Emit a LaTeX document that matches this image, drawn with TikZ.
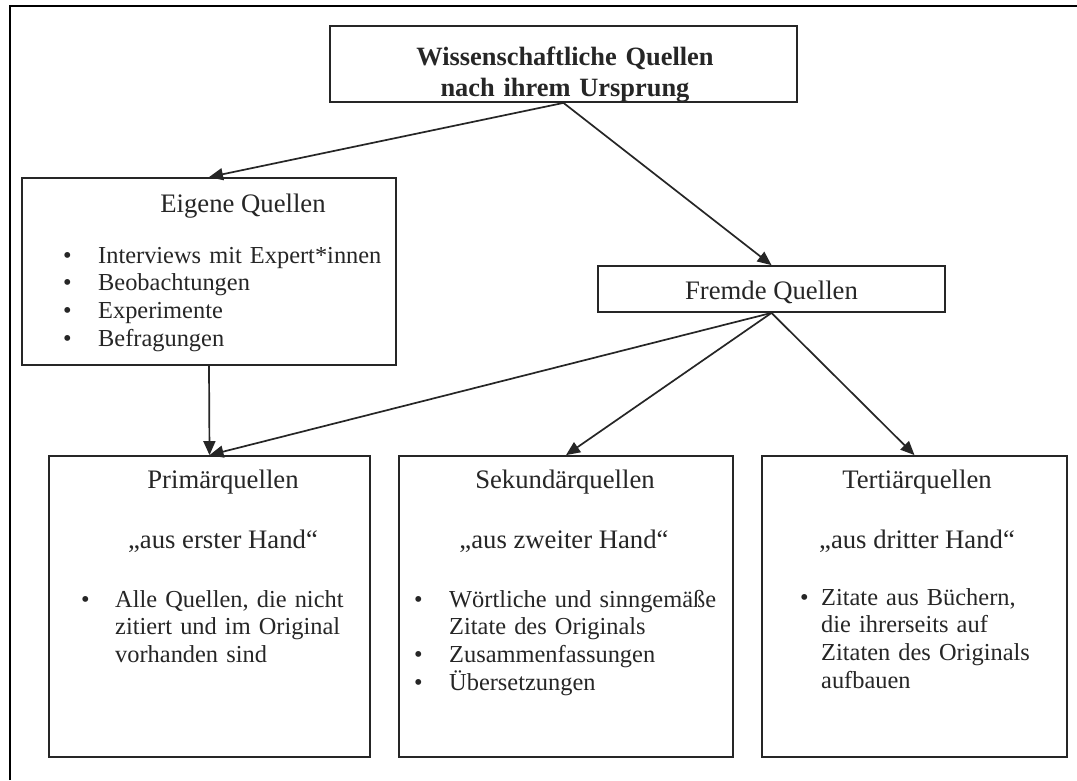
\documentclass[tikz,border=0pt]{standalone}
\usepackage{fontspec}
\setmainfont{Liberation Serif}
\usetikzlibrary{arrows.meta}
\definecolor{ink}{HTML}{262626}
\newcommand{\bul}[1]{\makebox[#1][l]{\textbullet}}

\begin{document}
\begin{tikzpicture}[x=1pt,y=-1pt,
    box/.style={draw=ink, line width=1.8pt, inner sep=0pt},
    head/.style={text=ink, font=\fontsize{26.7}{30}\selectfont, anchor=base, inner sep=0pt},
    lst/.style={text=ink, font=\fontsize{24.4}{27.7}\selectfont, anchor=base west,
                inner sep=0pt, text width=420pt, align=left},
    arr/.style={draw=ink, line width=1.7pt, -{Triangle[length=14pt,width=12pt]}}]
    \useasboundingbox (0,0) rectangle (1077,780);
    \fill[white] (0,0) rectangle (1077,780);
    % Outer frame
    \draw[line width=2.4pt] (10,780) -- (10,6) -- (1077,6);

    % Draw the boxes
    \node[box, minimum width=467pt, minimum height=76pt] (top) at (563.5,64) {};
    \node[box, minimum width=374pt, minimum height=187pt] (eig) at (209,271.5) {};
    \node[box, minimum width=347pt, minimum height=46pt] (frm) at (771.5,289) {};
    \node[box, minimum width=321pt, minimum height=301pt] (prim) at (209.5,606.5) {};
    \node[box, minimum width=334pt, minimum height=301pt] (sek) at (566,606.5) {};
    \node[box, minimum width=305pt, minimum height=301pt] (tert) at (914.5,606.5) {};

    % Texts
    \node[head, font=\fontsize{26.4}{31}\selectfont\bfseries, text width=440pt, align=center]
        (topT) at (565,65) {Wissenschaftliche Quellen\\nach ihrem Ursprung};
    \node[head] (eigT) at (243,212) {Eigene Quellen};
    \node[lst] (eigL) at (63,263) {\bul{35pt}Interviews mit Expert*innen\\
        \bul{35pt}Beobachtungen\\ \bul{35pt}Experimente\\ \bul{35pt}Befragungen};
    \node[head] (frmT) at (771.5,299) {Fremde Quellen};

    \node[head] (primT) at (223,488) {Primärquellen};
    \node[head] (primQ) at (223,548) {„aus erster Hand“};
    \node[lst] (primL) at (81,607) {\bul{34pt}Alle Quellen, die nicht\\
        \hspace*{34pt}zitiert und im Original\\ \hspace*{34pt}vorhanden sind};

    \node[head] (sekT) at (565,488) {Sekundärquellen};
    \node[head] (sekQ) at (564,548) {„aus zweiter Hand“};
    \node[lst] (sekL) at (414,607) {\bul{35pt}Wörtliche und sinngemäße\\
        \hspace*{35pt}Zitate des Originals\\ \bul{35pt}Zusammenfassungen\\ \bul{35pt}Übersetzungen};

    \node[head] (tertT) at (917,488) {Tertiärquellen};
    \node[head] (tertQ) at (917,548) {„aus dritter Hand“};
    \node[lst] (tertL) at (800,605) {\bul{21pt}Zitate aus Büchern,\\
        \hspace*{21pt}die ihrerseits auf\\ \hspace*{21pt}Zitaten des Originals\\ \hspace*{21pt}aufbauen};

    % Arrows
    \draw[arr] (top.south) -- (eig.north);
    \draw[arr] (top.south) -- (frm.north);
    \draw[arr] (eig.south) -- (prim.north);
    \foreach \t in {prim,sek,tert} {
        \draw[arr] (frm.south) -- (\t.north);
    }
\end{tikzpicture}
\end{document}
